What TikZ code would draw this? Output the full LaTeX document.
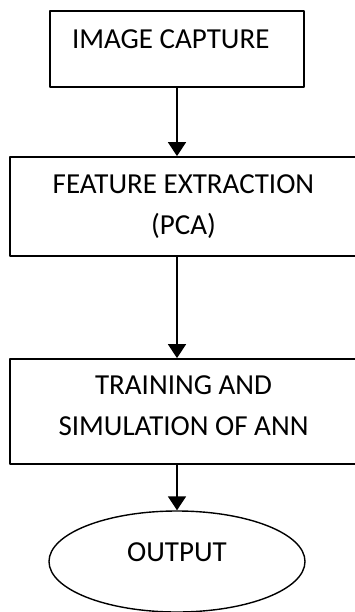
\documentclass[tikz,border=0pt]{standalone}
\usepackage{fontspec}
\setmainfont{Carlito}
\usetikzlibrary{arrows.meta,shapes.geometric}
\begin{document}
\begin{tikzpicture}[x=1pt,y=-1pt,font=\fontsize{29}{41}\selectfont,line join=round,>={Triangle[width=18pt,length=14pt]}]
	\tikzset{stepbox/.style={draw,line width=1.8pt,align=center,inner sep=0pt},
		flow/.style={->,line width=1.8pt}}
	\useasboundingbox (0,0) rectangle (355,612);
	\node[stepbox,minimum width=254pt,minimum height=76pt,text width=210pt,align=flush left,text depth=20pt] (capture) at (177,49) {IMAGE CAPTURE};
	\node[stepbox,minimum width=347pt,minimum height=99pt,text depth=3pt] (pca) at (183.5,206.5) {FEATURE EXTRACTION\\(PCA)};
	\node[stepbox,minimum width=347pt,minimum height=105pt,text depth=11pt] (ann) at (183.5,411.5) {TRAINING AND\\SIMULATION OF ANN};
	\node[ellipse,draw,line width=1.4pt,inner sep=0pt,minimum width=256pt,minimum height=101pt,text depth=18pt] (output) at (177,561.5) {OUTPUT};
	\draw[flow] (capture.south) -- (capture.south |- pca.north);
	\draw[flow] (capture.south |- pca.south) -- (capture.south |- ann.north);
	\draw[flow] (capture.south |- ann.south) -- (output.north);
\end{tikzpicture}
\end{document}
